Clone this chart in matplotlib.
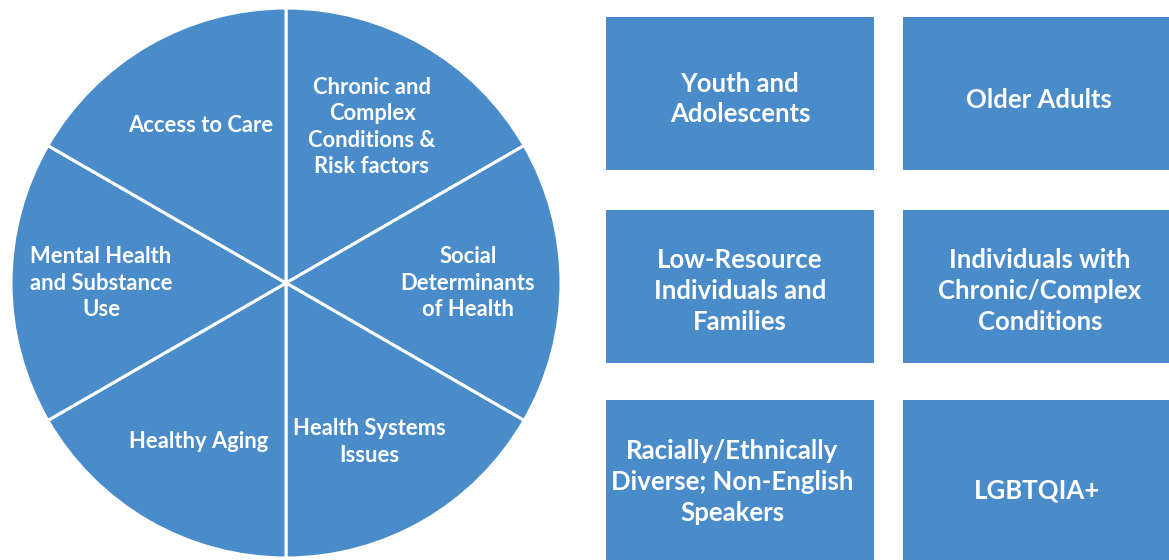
"""Priority areas (pie of six equal slices) and priority populations (grid of boxes)."""
import matplotlib
matplotlib.use("Agg")
import matplotlib.pyplot as plt

BLUE = "#4a8cc9"

# pie slices, clockwise from 12 o'clock
areas = [
    "Chronic and\nComplex\nConditions &\nRisk factors",
    "Social\nDeterminants\nof Health",
    "Health Systems\nIssues",
    "Healthy Aging",
    "Mental Health\nand Substance\nUse",
    "Access to Care",
]
area_share = [1, 1, 1, 1, 1, 1]

# boxes, row by row
populations = [
    "Youth and\nAdolescents",
    "Older Adults",
    "Low-Resource\nIndividuals and\nFamilies",
    "Individuals with\nChronic/Complex\nConditions",
    "Racially/Ethnically\nDiverse; Non-English\nSpeakers",
    "LGBTQIA+",
]

W, H = 1169, 560
plt.rcParams["font.family"] = ["Lato", "DejaVu Sans"]

fig = plt.figure(figsize=(W / 100, H / 100), dpi=100)
ax = fig.add_axes([0, 0, 1, 1])

# pie, pixel coords with y measured from the bottom
ax.pie(area_share, startangle=90, counterclock=False,
       center=(286, H - 283), radius=275, colors=[BLUE] * len(areas),
       wedgeprops=dict(edgecolor="white", linewidth=2.2))

area_pos = [(372, 127), (468, 283), (369, 442), (199, 441), (101, 283), (201, 125)]
for txt, (x, y) in zip(areas, area_pos):
    ax.text(x, H - y, txt, ha="center", va="center", color="white",
            fontsize=15.8, fontweight="bold", linespacing=1.3)

# boxes: two columns, three rows
col_left = [606, 903]
col_width = [268, 280]
row_top = [17, 210, 400]
row_height = [153, 153, 170]
lefts, widths, bottoms, heights = [], [], [], []
for r in range(3):
    for c in range(2):
        lefts.append(col_left[c])
        widths.append(col_width[c])
        bottoms.append(H - row_top[r] - row_height[r])
        heights.append(row_height[r])
ax.bar(lefts, heights, width=widths, bottom=bottoms, align="edge",
       color=BLUE, linewidth=0)

pop_pos = [(740, 99), (1039, 100), (740, 291), (1040, 291), (732, 482), (1037, 490)]
for txt, (x, y) in zip(populations, pop_pos):
    ax.text(x, H - y, txt, ha="center", va="center", color="white",
            fontsize=18.5, fontweight="bold", linespacing=1.35)

ax.set_xlim(0, W)
ax.set_ylim(0, H)
ax.set_aspect("auto")
ax.set_axis_off()

fig.savefig("out.png", dpi=100, facecolor="white")
plt.close(fig)
